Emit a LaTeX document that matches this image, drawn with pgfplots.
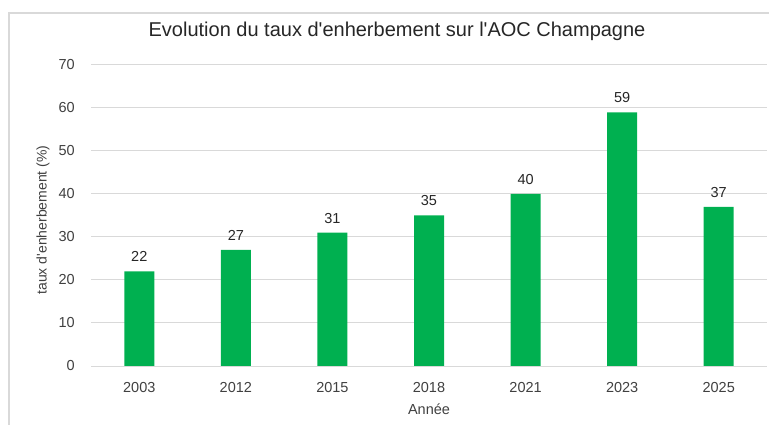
\documentclass[border=0pt]{standalone}
\usepackage{pgfplots}
\pgfplotsset{compat=1.18}
\usepackage{fontspec}
\setmainfont{Liberation Sans}
\definecolor{barg}{RGB}{0,176,80}
\definecolor{gridc}{RGB}{217,217,217}
\definecolor{tickc}{RGB}{64,64,64}
\definecolor{titc}{RGB}{38,38,38}
\begin{document}
\begin{tikzpicture}
\useasboundingbox (0,0) rectangle (769bp,425bp);
\begin{scope}
\clip (0,0) rectangle (769bp,425bp);
\draw[gridc, line width=1.2bp] (9bp,-10bp) -- (9bp,412bp) -- (790bp,412bp);
\end{scope}
\begin{axis}[
  at={(91bp,59bp)}, anchor=south west,
  scale only axis, width=676bp, height=301bp,
  ybar, bar width=30bp,
  xmin=-0.5, xmax=6.5, ymin=0, ymax=70,
  xtick={0,1,2,3,4,5,6},
  xticklabels={2003,2012,2015,2018,2021,2023,2025},
  ytick={0,10,20,30,40,50,60,70},
  /pgf/number format/assume math mode=true,
  major tick length=0pt,
  axis line style={draw=none},
  ymajorgrids, grid style={gridc, line width=1bp},
  xticklabel style={anchor=base, inner sep=0pt, yshift=-26bp, font=\fontsize{14.5bp}{17bp}\selectfont, text=tickc},
  yticklabel style={anchor=east, inner sep=0pt, xshift=-16bp, font=\fontsize{14.5bp}{17bp}\selectfont, text=tickc},
  title={Evolution du taux d\textquotesingle enherbement sur l\textquotesingle AOC Champagne},
  title style={at={(axis description cs:0.4527,1.0764)}, anchor=base, inner sep=0pt, font=\fontsize{20bp}{23bp}\selectfont, text=titc},
  xlabel={Année},
  xlabel style={at={(axis description cs:0.5,-0.1429)}, anchor=center, font=\fontsize{14.5bp}{17bp}\selectfont, text=tickc},
  ylabel={taux d\textquotesingle enherbement (\%)},
  ylabel style={at={(axis description cs:-0.0710,0.485)}, anchor=center, rotate=0, font=\fontsize{14bp}{16bp}\selectfont, text=tickc},
  nodes near coords,
  every node near coord/.append style={anchor=base, inner sep=0pt, yshift=9.6bp, font=\fontsize{14.5bp}{17bp}\selectfont, text=titc},
]
\addplot[fill=barg, draw=none] coordinates {(0,22) (1,27) (2,31) (3,35) (4,40) (5,59) (6,37)};
\end{axis}
\end{tikzpicture}
\end{document}
